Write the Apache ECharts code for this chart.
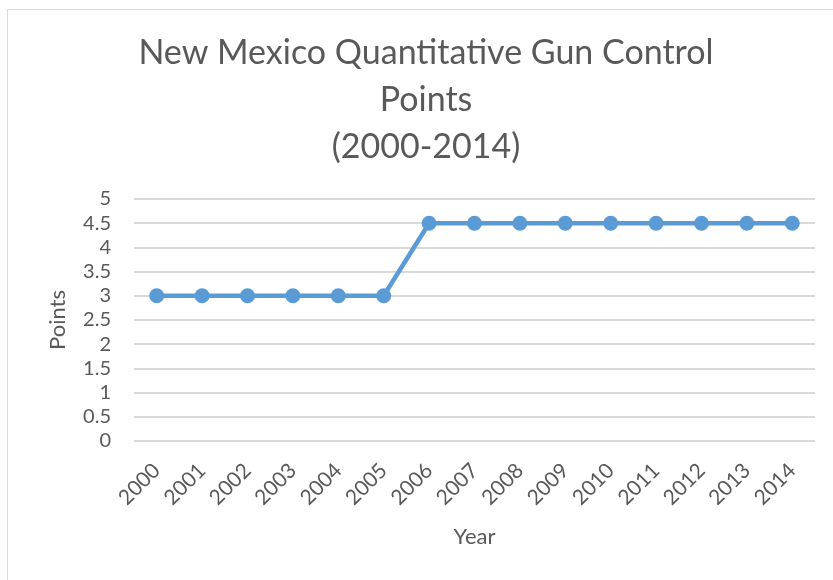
<!DOCTYPE html>
<html>
<head>
<meta charset="utf-8">
<script src="https://cdn.jsdelivr.net/npm/echarts@6/dist/echarts.min.js"></script>
<style>
  html, body { margin: 0; padding: 0; background: #ffffff; }
  #chart { width: 833px; height: 580px; }
</style>
</head>
<body>
<div id="chart"></div>
<script>
// Year categories along the horizontal axis
const years = ['2000', '2001', '2002', '2003', '2004', '2005', '2006', '2007',
               '2008', '2009', '2010', '2011', '2012', '2013', '2014'];
// Gun control points per year
const points = [3, 3, 3, 3, 3, 3, 4.5, 4.5, 4.5, 4.5, 4.5, 4.5, 4.5, 4.5, 4.5];

const FONT = 'Lato, "Liberation Sans", sans-serif';
const TEXT = '#595959';

const chart = echarts.init(document.getElementById('chart'), null, { renderer: 'canvas' });
chart.setOption({
  backgroundColor: '#ffffff',
  animation: false,
  title: {
    text: 'New Mexico Quantitative Gun Control\nPoints\n(2000-2014)',
    left: 421,
    textAlign: 'center',
    top: 25,
    textStyle: {
      fontFamily: FONT,
      fontSize: 34,
      fontWeight: 'normal',
      color: TEXT,
      lineHeight: 47
    }
  },
  graphic: [{
    type: 'rect',
    shape: { x: 7.5, y: 9.5, width: 900, height: 700 },
    style: { fill: 'none', stroke: '#d9d9d9', lineWidth: 1 },
    silent: true
  }],
  grid: { left: 134, right: 18, top: 199, bottom: 139 },
  xAxis: {
    type: 'category',
    data: years,
    boundaryGap: true,
    name: 'Year',
    nameLocation: 'middle',
    nameGap: 85,
    nameTextStyle: { fontFamily: FONT, fontSize: 22, color: TEXT },
    axisLine: { show: false },
    axisTick: { show: false },
    axisLabel: {
      rotate: 45,
      margin: 26,
      fontFamily: FONT,
      fontSize: 21,
      color: TEXT
    }
  },
  yAxis: {
    type: 'value',
    min: 0,
    max: 5,
    interval: 0.5,
    name: 'Points',
    nameLocation: 'middle',
    nameGap: 65,
    nameRotate: 90,
    nameTextStyle: { fontFamily: FONT, fontSize: 22, color: TEXT },
    axisLine: { show: false },
    axisTick: { show: false },
    axisLabel: {
      margin: 23,
      fontFamily: FONT,
      fontSize: 20,
      color: TEXT
    },
    splitLine: { lineStyle: { color: '#d9d9d9', width: 2 } }
  },
  series: [{
    type: 'line',
    data: points,
    symbol: 'circle',
    symbolSize: 15,
    lineStyle: { color: '#5b9bd5', width: 4.5 },
    itemStyle: { color: '#5b9bd5' }
  }]
});
</script>
</body>
</html>
